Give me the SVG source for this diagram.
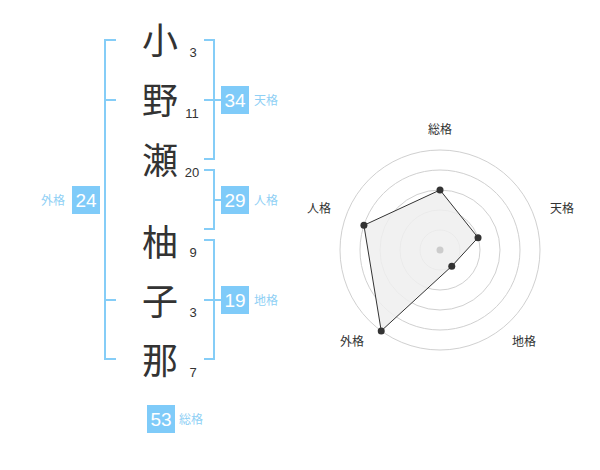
<svg xmlns="http://www.w3.org/2000/svg" width="600" height="470" viewBox="0 0 600 470">
<style>
.k{font-family:"Noto Sans CJK JP",sans-serif;font-size:36px;fill:#333;text-anchor:middle}
.n{font-family:"Liberation Sans","Noto Sans CJK JP",sans-serif;font-size:13px;fill:#333;text-anchor:middle}
.br{fill:none;stroke:#85cdf7;stroke-width:2}
.box{fill:#7fcbf9}
.bn{font-family:"Liberation Sans",sans-serif;font-size:19px;fill:#fff;text-anchor:middle}
.bl{font-family:"Noto Sans CJK JP",sans-serif;font-size:12px;fill:#8fd0f5}
.rg{fill:none;stroke:#d0d0d0;stroke-width:1}
.rl{font-family:"Noto Sans CJK JP",sans-serif;font-size:12px;fill:#333;text-anchor:middle}
.pt{fill:#333}
</style>
<g id="connectors">
<path class="br" d="M116,40 H105 V359 H116 M105,100 H116 M105,300 H116"/>
<path class="br" d="M204,40 H214 V159 H204 M204,100 H221"/>
<path class="br" d="M204,170 H214 V229 H204 M214,200 H221"/>
<path class="br" d="M204,240 H214 V359 H204 M204,300 H221"/>
</g>
<g id="name">
<text class="k" x="160" y="54">小</text>
<text class="k" x="160" y="114">野</text>
<text class="k" x="160" y="174">瀬</text>
<text class="k" x="160" y="256">柚</text>
<text class="k" x="160" y="315">子</text>
<text class="k" x="160" y="374">那</text>
<text class="n" x="193" y="57">3</text>
<text class="n" x="192" y="118">11</text>
<text class="n" x="192" y="177">20</text>
<text class="n" x="193" y="257">9</text>
<text class="n" x="193" y="317">3</text>
<text class="n" x="193" y="377">7</text>
</g>
<g id="tenkaku">
<rect class="box" x="221" y="86" width="28" height="28"/>
<text class="bn" x="235" y="107">34</text>
<text class="bl" x="254" y="105">天格</text>
</g>
<g id="jinkaku">
<rect class="box" x="221" y="186" width="28" height="28"/>
<text class="bn" x="235" y="207">29</text>
<text class="bl" x="254" y="205">人格</text>
</g>
<g id="chikaku">
<rect class="box" x="221" y="286" width="28" height="28"/>
<text class="bn" x="235" y="307">19</text>
<text class="bl" x="254" y="305">地格</text>
</g>
<g id="gaikaku">
<rect class="box" x="72" y="186" width="28" height="28"/>
<text class="bn" x="86" y="207">24</text>
<text class="bl" x="41" y="205">外格</text>
</g>
<g id="soukaku">
<rect class="box" x="147" y="405" width="28" height="28"/>
<text class="bn" x="161" y="426">53</text>
<text class="bl" x="179" y="424">総格</text>
</g>
<g id="radar">
<circle class="rg" cx="440" cy="250" r="20"/>
<circle class="rg" cx="440" cy="250" r="40"/>
<circle class="rg" cx="440" cy="250" r="60"/>
<circle class="rg" cx="440" cy="250" r="80"/>
<circle class="rg" cx="440" cy="250" r="100"/>
<polygon points="440,190 478.04,237.64 451.76,266.18 381.22,330.9 363.92,225.28" fill="#efefef" fill-opacity="0.85" stroke="#333" stroke-width="1"/>
<circle cx="440" cy="250" r="3.5" fill="#ccc"/>
<circle class="pt" cx="440" cy="190" r="3.5"/>
<circle class="pt" cx="478.04" cy="237.64" r="3.5"/>
<circle class="pt" cx="451.76" cy="266.18" r="3.5"/>
<circle class="pt" cx="381.22" cy="330.9" r="3.5"/>
<circle class="pt" cx="363.92" cy="225.28" r="3.5"/>
<text class="rl" x="440" y="134">総格</text>
<text class="rl" x="562" y="213">天格</text>
<text class="rl" x="524" y="346">地格</text>
<text class="rl" x="352" y="346">外格</text>
<text class="rl" x="319" y="213">人格</text>
</g>
</svg>
